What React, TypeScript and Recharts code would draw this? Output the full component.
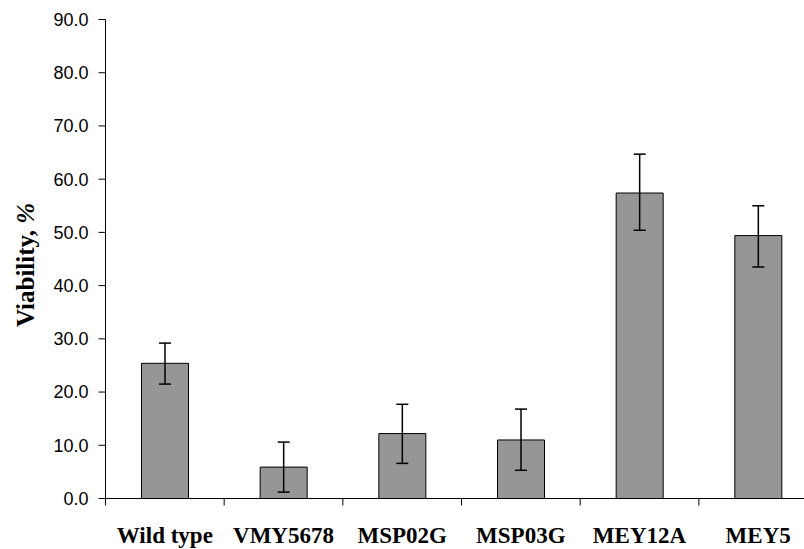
import React from "react";
import { BarChart, Bar, XAxis, YAxis, ErrorBar } from "recharts";

const categories = ["Wild type", "VMY5678", "MSP02G", "MSP03G", "MEY12A", "MEY5"];
const viability = [25.4, 5.9, 12.2, 11.0, 57.4, 49.4];
const errLow = [3.9, 4.7, 5.6, 5.7, 7.0, 5.9];
const errHigh = [3.8, 4.7, 5.5, 5.8, 7.3, 5.6];
const yTicks = [0, 10, 20, 30, 40, 50, 60, 70, 80, 90];

const CHART_W = 830;
const CHART_H = 549;
const MARGIN = { top: 19.5, right: 12.5, left: 0, bottom: 5.5 };
const Y_AXIS_W = 105.5;
const X_AXIS_H = 45;

const data = categories.map((name, i) => ({
  name,
  value: viability[i],
  err: [errLow[i], errHigh[i]],
}));

const plotWidth = CHART_W - MARGIN.left - MARGIN.right - Y_AXIS_W;
const band = plotWidth / categories.length;

const CategoryTick = (props: any) => {
  const { x, y, payload } = props;
  return (
    <g>
      <line x1={x - band / 2} x2={x - band / 2} y1={y} y2={y + 7} stroke="#000" />
      <text
        x={x}
        y={y + 44}
        textAnchor="middle"
        fontFamily="'Liberation Serif', 'Times New Roman', serif"
        fontWeight="bold"
        fontSize={23}
        fill="#000"
      >
        {payload.value}
      </text>
    </g>
  );
};

const YLabel = (props: any) => {
  const { viewBox } = props;
  const cx = 25;
  const cy = viewBox.y + viewBox.height / 2 + 6;
  return (
    <text
      x={cx}
      y={cy}
      transform={`rotate(-90, ${cx}, ${cy})`}
      textAnchor="middle"
      dominantBaseline="central"
      fontFamily="'Liberation Serif', 'Times New Roman', serif"
      fontWeight="bold"
      fontSize={25}
      fill="#000"
    >
      Viability, <tspan fontStyle="italic">%</tspan>
    </text>
  );
};

export default function App() {
  return (
    <>
      <style>{"html, body { margin: 0; padding: 0; overflow: hidden; background: #fff; }"}</style>
      <div style={{ width: 804, height: 549, overflow: "hidden", position: "relative" }}>
        <BarChart width={CHART_W} height={CHART_H} data={data} margin={MARGIN}>
          <XAxis
            dataKey="name"
            height={X_AXIS_H}
            axisLine={{ stroke: "#000" }}
            tickLine={false}
            tickSize={0}
            tickMargin={0}
            tick={<CategoryTick />}
            interval={0}
          />
          <YAxis
            width={Y_AXIS_W}
            domain={[0, 90]}
            ticks={yTicks}
            interval={0}
            tickFormatter={(v: number) => v.toFixed(1)}
            axisLine={{ stroke: "#000" }}
            tickLine={{ stroke: "#000" }}
            tickSize={7}
            tickMargin={10}
            tick={{ fill: "#000", fontSize: 18, fontFamily: "'Liberation Sans', Arial, sans-serif" }}
            label={<YLabel />}
          />
          <Bar dataKey="value" fill="#969696" stroke="#000" strokeWidth={1} barSize={47} isAnimationActive={false}>
            <ErrorBar dataKey="err" width={6} stroke="#000" strokeWidth={1.5} direction="y" />
          </Bar>
        </BarChart>
      </div>
    </>
  );
}
